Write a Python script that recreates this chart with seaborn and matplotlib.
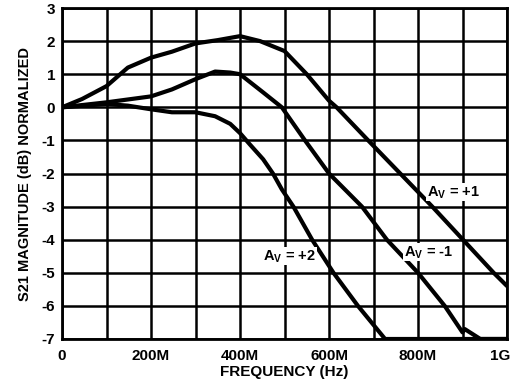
import numpy as np
import pandas as pd
import matplotlib
matplotlib.use("Agg")
import matplotlib.pyplot as plt
import matplotlib.transforms as mtransforms
import seaborn as sns

# frequency in MHz, magnitude in dB (normalized)
freq_p1 = [0, 45, 100, 148, 200, 247, 300, 350, 400, 445, 500, 550, 600, 617, 688, 760, 832, 901, 970, 1000]
mag_p1 = [0.0, 0.25, 0.64, 1.2, 1.5, 1.68, 1.93, 2.03, 2.15, 2.0, 1.7, 1.0, 0.2, 0.0, -1.0, -2.0, -3.0, -4.0, -5.0, -5.4]

freq_m1 = [0, 100, 200, 247, 300, 344, 378, 400, 452, 494, 546, 600, 674, 730, 800, 860, 900, 905, 940, 1000]
mag_m1 = [0.0, 0.15, 0.33, 0.54, 0.85, 1.08, 1.05, 1.0, 0.45, 0.0, -1.0, -2.0, -3.0, -4.0, -5.0, -6.0, -6.8, -6.7, -7.0, -7.0]

freq_p2 = [0, 100, 148, 200, 247, 300, 344, 378, 400, 422, 452, 474, 494, 520, 562, 610, 665, 726, 1000]
mag_p2 = [0.0, 0.1, 0.05, -0.06, -0.15, -0.15, -0.27, -0.5, -0.78, -1.12, -1.57, -2.0, -2.48, -3.0, -4.0, -5.0, -6.0, -7.0, -7.0]

x_ticks = [0, 200, 400, 600, 800, 1000]
x_labels = ["0", "200M", "400M", "600M", "800M", "1G"]
y_ticks = list(range(-7, 4))

labels = [("A$_\\mathregular{V}$ = +1", 820, -2.57),
          ("A$_\\mathregular{V}$ = -1", 768, -4.38),
          ("A$_\\mathregular{V}$ = +2", 452, -4.5)]

df = pd.concat([
    pd.DataFrame({"freq": freq_p1, "mag": mag_p1, "gain": "+1"}),
    pd.DataFrame({"freq": freq_m1, "mag": mag_m1, "gain": "-1"}),
    pd.DataFrame({"freq": freq_p2, "mag": mag_p2, "gain": "+2"}),
])

sns.set_theme(style="white")
plt.rcParams["font.family"] = ["Liberation Sans", "DejaVu Sans"]
plt.rcParams["font.weight"] = "bold"
plt.rcParams["mathtext.default"] = "bf"
plt.rcParams["axes.unicode_minus"] = False

fig = plt.figure(figsize=(5.15, 3.85), dpi=100)
ax = fig.add_axes([0.1204, 0.1195, 0.8641, 0.8597])

sns.lineplot(data=df, x="freq", y="mag", hue="gain", palette=["black"] * 3,
             sort=False, linewidth=3, legend=False, ax=ax, zorder=3)
for ln in ax.get_lines():
    ln.set_solid_joinstyle("round")
    ln.set_solid_capstyle("round")

ax.set_xlim(0, 1000)
ax.set_ylim(-7, 3)
ax.set_xticks(x_ticks)
ax.set_xticklabels(x_labels)
ax.set_xticks(np.arange(0, 1001, 100), minor=True)
ax.set_yticks(y_ticks)
ax.grid(True, which="both", color="black", linewidth=1.8)
ax.tick_params(axis="both", which="both", length=0, labelsize=11, colors="black")
ax.tick_params(axis="x", pad=7)
ax.tick_params(axis="y", pad=5)
for s in ax.spines.values():
    s.set_color("black")
    s.set_linewidth(2)

for lab in ax.get_xticklabels() + ax.get_yticklabels():
    lab.set_fontweight("heavy")
# keep the last tick label inside the figure
last = ax.get_xticklabels()[-1]
last.set_transform(last.get_transform() + mtransforms.ScaledTranslation(-5 / 72, 0, fig.dpi_scale_trans))

ax.set_xlabel("FREQUENCY (Hz)", fontsize=11, fontweight="heavy", labelpad=2, color="black")
ax.set_ylabel("S21 MAGNITUDE (dB) NORMALIZED", fontsize=10.5, fontweight="heavy", labelpad=7, color="black")

for txt, x, y in labels:
    ax.text(x, y, txt, fontsize=10.5, fontweight="heavy", ha="left", va="center",
            color="black", zorder=4,
            bbox=dict(facecolor="white", edgecolor="none", pad=0.5))

fig.savefig("out.png", dpi=100)
